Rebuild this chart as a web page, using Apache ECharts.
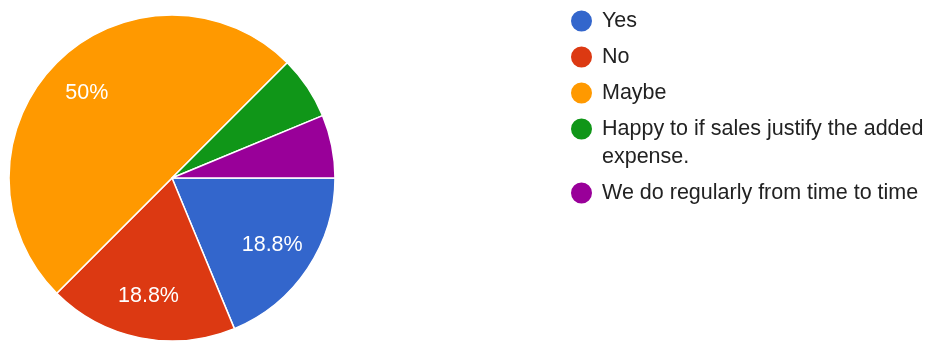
<!DOCTYPE html>
<html lang="en">
<head>
    <meta charset="UTF-8">
    <title>Pie chart</title>
    <script src="https://cdn.jsdelivr.net/npm/echarts@6/dist/echarts.min.js"></script>
    <style>
        html, body { margin: 0; padding: 0; background: #fff; }
    </style>
</head>
<body>
    <div id="main" style="width: 933px;height:343px;"></div>
    <script type="text/javascript">
        // answers and counts (16 responses)
        var categories = ['Yes', 'No', 'Maybe', 'Happy to if sales justify the added expense.', 'We do regularly from time to time'];
        var counts = [3, 3, 8, 1, 1];
        var colors = ['#3366cc', '#dc3912', '#ff9900', '#109618', '#990099'];
        // legend row centres (y)
        var legendRows = [21, 57, 93, 129, 193];

        var myChart = echarts.init(document.getElementById('main'));

        var pieData = categories.map(function (name, i) {
            return { name: name, value: counts[i], itemStyle: { color: colors[i] } };
        });
        var labelData = categories.map(function (name, i) {
            return { name: name, value: counts[i] };
        });

        var font = '"Liberation Sans", Arial, sans-serif';

        // one legend per row so the wrapped entry keeps its dot on the first line
        var legends = categories.map(function (name, i) {
            var wrap = name.length > 36;
            return {
                data: [name],
                orient: 'vertical',
                left: 569,
                top: wrap ? legendRows[i] - 42 : legendRows[i] - 14,
                padding: 0,
                icon: 'circle',
                itemWidth: 31,
                itemHeight: 23,
                selectedMode: false,
                formatter: function (n) {
                    // empty first line centres the block on the first text line
                    return wrap ? '\n' + n : n;
                },
                textStyle: {
                    fontFamily: font,
                    fontSize: 21.5,
                    color: '#222',
                    lineHeight: 28,
                    width: 335,
                    overflow: 'break'
                }
            };
        });

        var option = {
            animation: false,
            legend: legends,
            series: [{
                type: 'pie',
                center: [172, 178],
                radius: [0, 163],
                startAngle: 0,
                clockwise: true,
                data: pieData,
                itemStyle: { borderColor: '#fff', borderWidth: 1.5 },
                label: { show: false },
                labelLine: { show: false },
                emphasis: { disabled: true }
            }, {
                // carries the percentage labels further out than 'inside' allows
                type: 'pie',
                center: [172, 178],
                radius: [72, 163],
                startAngle: 0,
                clockwise: true,
                silent: true,
                data: labelData,
                itemStyle: { color: 'transparent' },
                label: {
                    position: 'inside',
                    color: '#fff',
                    fontFamily: font,
                    fontSize: 21.5,
                    formatter: function (p) {
                        if (p.percent < 10) return '';
                        return Math.round(p.percent * 10) / 10 + '%';
                    }
                },
                labelLine: { show: false },
                emphasis: { disabled: true }
            }]
        };
        myChart.setOption(option);
    </script>
</body>
</html>
